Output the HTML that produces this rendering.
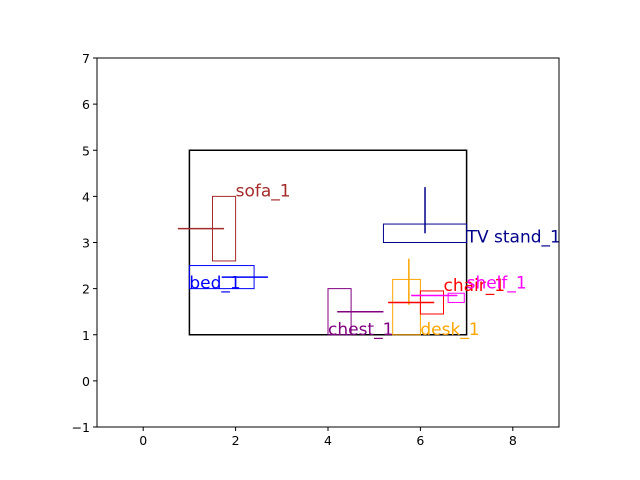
<!DOCTYPE html>
<html><head><meta charset="utf-8"><style>body{margin:0;background:#fff}svg{display:block}</style></head>
<body>
<svg id="c" width="640" height="480" font-family="DejaVu Sans, Liberation Sans, sans-serif"></svg>
<script>
const names=["sofa_1","bed_1","chest_1","desk_1","chair_1","shelf_1","TV stand_1"];
const colors=["brown","blue","purple","orange","red","magenta","darkblue"];
const rx0=[1.5,1.0,4.0,5.4,6.0,6.6,5.2];
const rx1=[2.0,2.4,4.5,6.0,6.5,6.95,7.0];
const ry0=[2.6,2.0,1.0,1.0,1.45,1.7,3.0];
const ry1=[4.0,2.5,2.0,2.2,1.95,1.9,3.4];
const lx0=[0.75,1.7,4.2,5.75,5.3,5.8,6.1];
const ly0=[3.3,2.25,1.5,1.65,1.7,1.85,3.2];
const lx1=[1.75,2.7,5.2,5.75,6.3,6.8,6.1];
const ly1=[3.3,2.25,1.5,2.65,1.7,1.85,4.2];
const labelX=[2.0,1.0,4.0,6.0,6.5,7.0,7.0];
const labelY=[4.0,2.0,1.0,1.0,1.95,2.0,3.0];
const room=[1,1,7,5];
const xTicks=[0,2,4,6,8];
const yTicks=[-1,0,1,2,3,4,5,6,7];
const L=97,R=559,T=58,B=427,xmin=-1,xmax=9,ymin=-1,ymax=7;
const X=v=>L+(v-xmin)/(xmax-xmin)*(R-L);
const Y=v=>B-(v-ymin)/(ymax-ymin)*(B-T);
const svg=document.getElementById('c');const NS='http://www.w3.org/2000/svg';
function mk(t,a,p){const e=document.createElementNS(NS,t);for(const k in a)e.setAttribute(k,a[k]);(p||svg).appendChild(e);return e;}
let e=mk('rect',{x:X(room[0]),y:Y(room[3]),width:X(room[2])-X(room[0]),height:Y(room[1])-Y(room[3]),fill:'none',stroke:'black','stroke-width':1.5});


for(let i=0;i<names.length;i++){
 e=mk('rect',{x:X(rx0[i]),y:Y(ry1[i]),width:X(rx1[i])-X(rx0[i]),height:Y(ry0[i])-Y(ry1[i]),fill:'none',stroke:colors[i],'stroke-width':1});
 
 
 e=mk('line',{x1:X(lx0[i]),y1:Y(ly0[i]),x2:X(lx1[i]),y2:Y(ly1[i]),stroke:colors[i],'stroke-width':1.5});
 
 
 e=mk('text',{x:X(labelX[i]),y:Y(labelY[i]),fill:colors[i],'font-size':17});
 e.textContent=names[i];
 
 
}
e=mk('rect',{x:L,y:T,width:R-L,height:B-T,fill:'none',stroke:'black','stroke-width':1});


xTicks.forEach(v=>{
 e=mk('line',{x1:X(v),x2:X(v),y1:B,y2:B+4,stroke:'black'});
 
 
 e=mk('text',{x:X(v),y:B+18,'text-anchor':'middle','font-size':12.5});e.textContent=v;
 
 
});
yTicks.forEach(v=>{
 e=mk('line',{x1:L-4,x2:L,y1:Y(v),y2:Y(v),stroke:'black'});
 
 
 e=mk('text',{x:L-7,y:Y(v)+5,'text-anchor':'end','font-size':12.5});e.textContent=v<0?'\u2212'+(-v):v;
 
 
});
</script>
</body></html>
